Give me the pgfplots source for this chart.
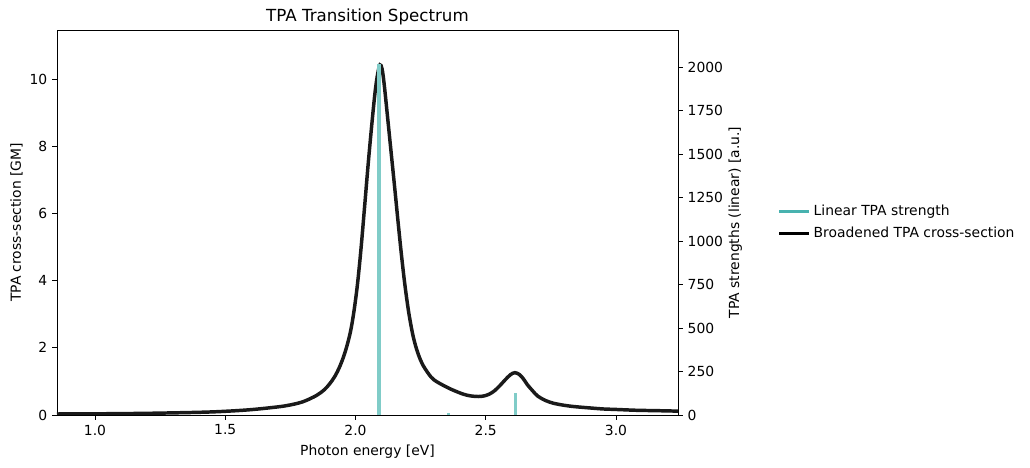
\documentclass[border=0pt]{standalone}
\usepackage{fontspec}
\setmainfont{DejaVu Sans}
\usepackage{pgfplots}
\pgfplotsset{compat=1.18}
\definecolor{stickc}{RGB}{128,204,200}
\definecolor{legc}{RGB}{72,178,175}
\definecolor{curvec}{RGB}{26,26,26}
\begin{document}
\begin{tikzpicture}
\path[use as bounding box] (-41.04pt,-38.16pt) rectangle (700.56pt,298.8pt);
\pgfplotsset{every axis/.append style={
  scale only axis, width=447.1pt, height=277.2pt,
  at={(0pt,0pt)}, anchor=south west,
  xmin=0.854, xmax=3.238,
  tick align=outside, major tick length=3.5pt,
  every tick/.style={black, line width=0.6pt},
  axis line style={line width=0.6pt},
  /pgf/number format/assume math mode=true,
  tick label style={font=\fontsize{10}{12}\selectfont},
  label style={font=\fontsize{10}{12}\selectfont},
}}
\begin{axis}[
  ymin=0, ymax=11.458,
  xtick={1.0,1.5,2.0,2.5,3.0},
  xticklabel style={/pgf/number format/.cd, fixed, fixed zerofill, precision=1},
  ytick={0,2,4,6,8,10},
  xtick pos=bottom, ytick pos=left,
  xlabel={Photon energy [eV]},
  ylabel={TPA cross-section [GM]},
  title={TPA Transition Spectrum},
  title style={font=\fontsize{12}{14}\selectfont, yshift=-6pt},
  xlabel style={yshift=0pt},
  ylabel style={yshift=-2pt},
]
\addplot[curvec, line width=2.5pt, smooth, tension=0.55] coordinates {
(0.854,0.03) (1.0,0.035) (1.2,0.05) (1.4,0.08) (1.5,0.11) (1.6,0.16)
(1.7,0.24) (1.75,0.30) (1.8,0.40) (1.85,0.58) (1.88,0.75) (1.9,0.92)
(1.92,1.14) (1.94,1.45) (1.96,1.87) (1.979,2.42) (1.992,2.98) (2.005,3.72)
(2.015,4.45) (2.024,5.2) (2.036,6.3) (2.049,7.5) (2.062,8.6) (2.075,9.6)
(2.085,10.15) (2.094,10.42) (2.102,10.3) (2.110,9.85) (2.122,8.95)
(2.135,7.95) (2.150,6.8) (2.164,5.7) (2.177,4.72) (2.19,3.85) (2.205,3.02)
(2.222,2.32) (2.24,1.83) (2.26,1.47) (2.29,1.13) (2.312,0.99) (2.34,0.87)
(2.363,0.78) (2.39,0.69) (2.414,0.62) (2.44,0.57) (2.471,0.55) (2.495,0.57)
(2.516,0.63) (2.535,0.73) (2.555,0.88) (2.575,1.05) (2.595,1.2) (2.612,1.26)
(2.63,1.2) (2.645,1.07) (2.66,0.9) (2.68,0.72) (2.70,0.56) (2.73,0.43)
(2.76,0.35) (2.80,0.29) (2.84,0.25) (2.90,0.21) (2.95,0.18) (3.0,0.165)
(3.08,0.14) (3.15,0.13) (3.238,0.115)
};
\end{axis}
\begin{axis}[
  ymin=0, ymax=2212.6,
  axis x line=none, axis y line*=right,
  ytick={0,250,500,750,1000,1250,1500,1750,2000},
  yticklabel style={/pgf/number format/1000 sep={}},
  ylabel={TPA strengths (linear) [a.u.]},
  ylabel style={yshift=3pt},
  legend style={draw=none, fill=none, at={(1.153,0.5)}, anchor=west,
    font=\fontsize{10}{12}\selectfont, row sep=3pt,
    /tikz/every even column/.append style={column sep=0pt}},
  legend cell align=left,
  legend image code/.code={\draw[#1] (0pt,0pt) -- (21.6pt,0pt);},
]
\addplot[ycomb, draw=stickc, line width=2.4pt, forget plot] coordinates {
(2.090,2015) (2.356,10) (2.613,126)
};
\addlegendimage{legc, line width=2pt}
\addlegendentry{Linear TPA strength}
\addlegendimage{black, line width=2.5pt}
\addlegendentry{Broadened TPA cross-section}
\end{axis}
\end{tikzpicture}
\end{document}
